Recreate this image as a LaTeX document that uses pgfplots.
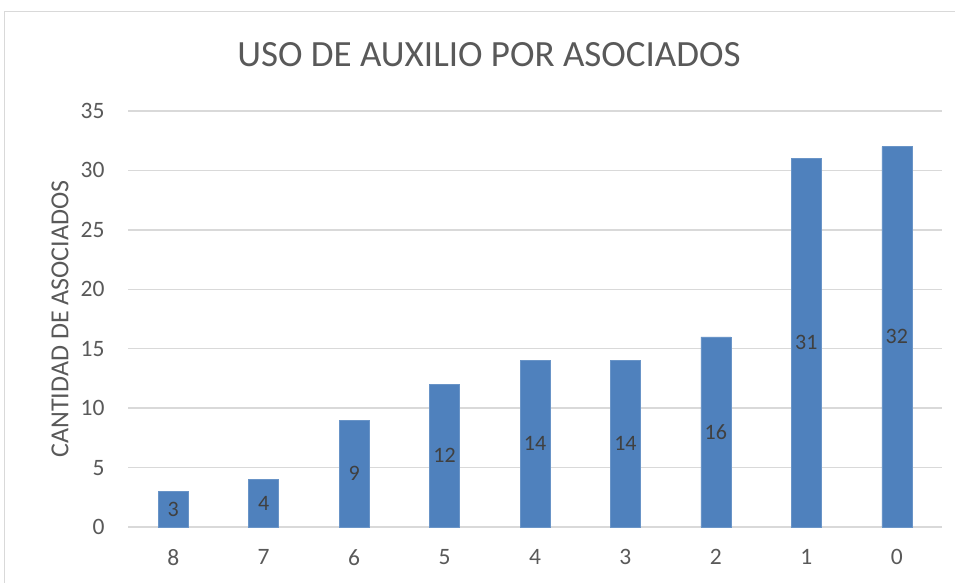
\documentclass[border=0pt]{standalone}
\usepackage{pgfplots}
\pgfplotsset{compat=1.18}
\usepackage{fontspec}
\setmainfont{Carlito}
\definecolor{barblue}{RGB}{79,129,189}
\definecolor{txtgray}{RGB}{89,89,89}
\definecolor{gridgray}{RGB}{217,217,217}
\definecolor{lblgray}{RGB}{64,64,64}
\begin{document}
\begin{tikzpicture}[x=1pt,y=1pt]
\useasboundingbox (0,0) rectangle (955,583);
\draw[gridgray, line width=1pt] (4,-10) rectangle (965,571);
\node[txtgray, font=\fontsize{37}{42}\selectfont] at (489,528) {USO DE AUXILIO POR ASOCIADOS};
\begin{axis}[
  at={(128pt,56pt)}, anchor=south west,
  scale only axis, width=814pt, height=416pt,
  xmin=-0.5, xmax=8.5, ymin=0, ymax=35,
  axis line style={draw=none},
  ymajorgrids, grid style={gridgray, line width=1.5pt},
  ytick={0,5,...,35},
  xtick={0,...,8}, xticklabels={8,7,6,5,4,3,2,1,0},
  major tick length=0pt,
  tick label style={txtgray, font=\fontsize{23.5}{27}\selectfont},
  /pgf/number format/assume math mode=true,
  xticklabel style={yshift=-19pt},
  yticklabel style={xshift=-20pt},
  ylabel={CANTIDAD DE ASOCIADOS},
  every axis y label/.style={at={(axis description cs:-0.0835,0.5)}, rotate=90, anchor=center, txtgray, font=\fontsize{26}{30}\selectfont},
  clip=false,
]
\addplot[ybar, bar width=30pt, bar shift=0pt, fill=barblue, draw=barblue!85!white]
  coordinates {(0,3) (1,4) (2,9) (3,12) (4,14) (5,14) (6,16) (7,31) (8,32)};
\addplot[draw=none, mark=none, nodes near coords, point meta=explicit symbolic,
  nodes near coords style={lblgray, font=\fontsize{22}{26}\selectfont, anchor=center}]
  coordinates {(0,1.5)[3] (1,2)[4] (2,4.5)[9] (3,6)[12] (4,7)[14] (5,7)[14] (6,8)[16] (7,15.5)[31] (8,16)[32]};
\end{axis}
\end{tikzpicture}
\end{document}
